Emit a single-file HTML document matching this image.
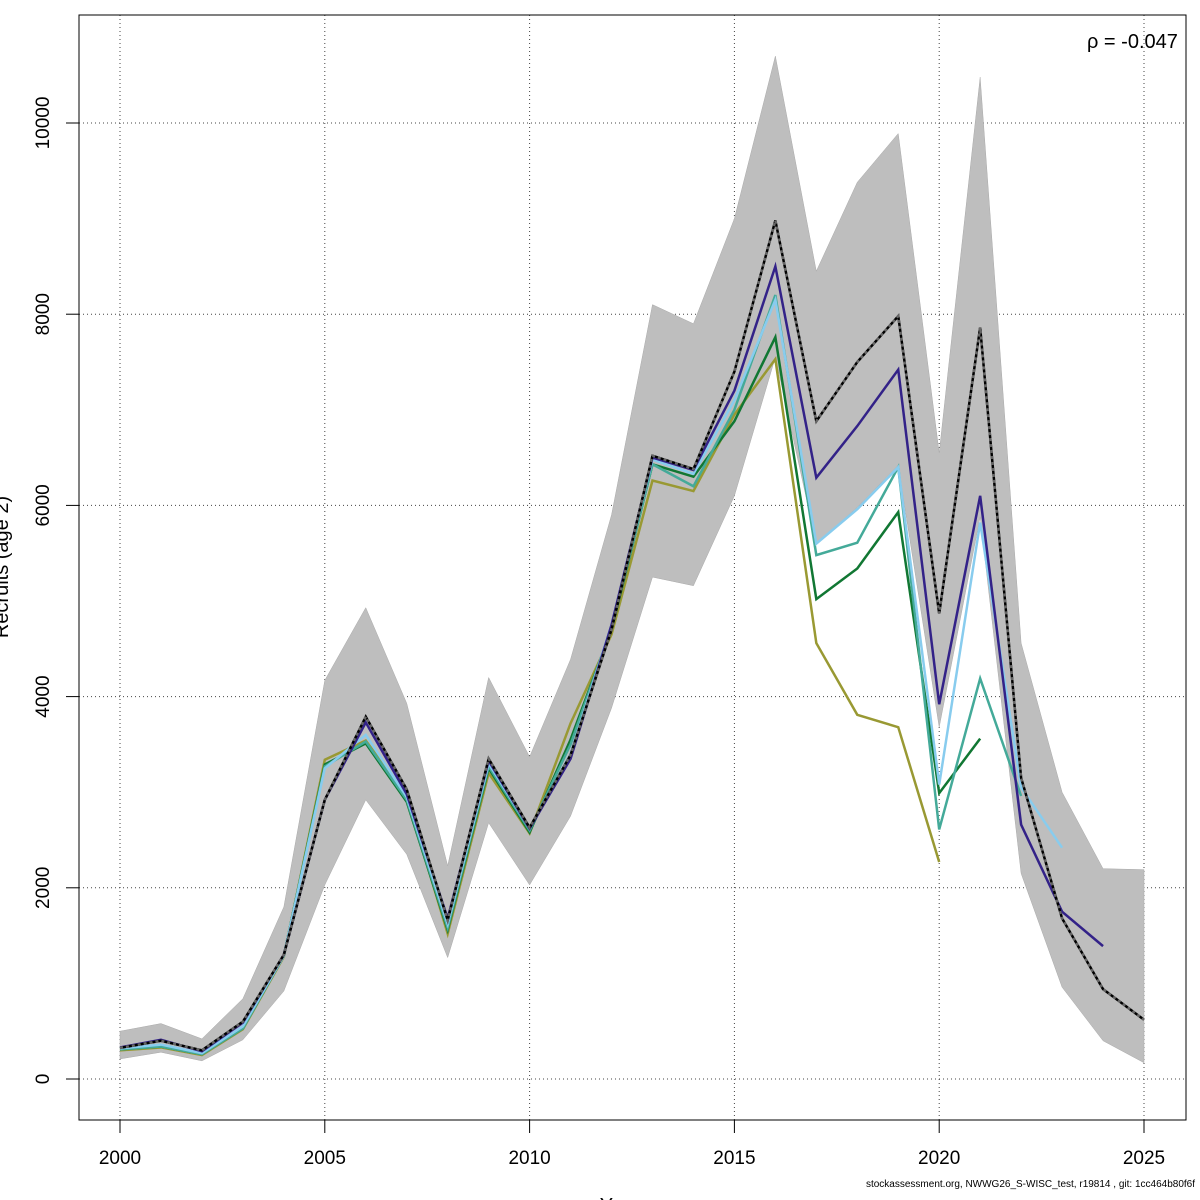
<!DOCTYPE html>
<html><head><meta charset="utf-8"><style>
html,body{margin:0;padding:0;background:#fff;}
svg{display:block;font-family:"Liberation Sans",sans-serif;}
</style></head><body>
<svg id="chart" width="1200" height="1200">
<rect width="1200" height="1200" fill="#fff"/>
<g id="grid"></g>
<g id="band"></g>
<g id="lines"></g>
<rect x="79" y="15" width="1107" height="1105" fill="none" stroke="#000" stroke-width="1"/>
<g id="axes"></g>
<text x="1087" y="48" font-size="20">ρ = -0.047</text>
<text transform="translate(8,567) rotate(-90)" text-anchor="middle" font-size="20">Recruits (age 2)</text>
<text x="620" y="1212" text-anchor="middle" font-size="20">Year</text>
<text x="1195" y="1187" text-anchor="end" font-size="10">stockassessment.org, NWWG26_S-WISC_test, r19814 , git: 1cc464b80f6f</text>
</svg>
<script>
const years = [2000,2001,2002,2003,2004,2005,2006,2007,2008,2009,2010,2011,2012,2013,2014,2015,2016,2017,2018,2019,2020,2021,2022,2023,2024,2025];
const bandHigh = [500,580,420,840,1800,4170,4930,3930,2230,4200,3370,4390,5900,8100,7900,9000,10700,8450,9380,9890,6550,10480,4560,3000,2200,2190];
const bandLow = [210,280,190,410,920,2030,2920,2350,1270,2680,2030,2750,3880,5250,5160,6100,7550,5600,5980,6420,3680,5880,2150,960,400,170];
const baseRun = [325,400,300,600,1300,2920,3790,3030,1660,3350,2630,3390,4700,6520,6380,7400,8980,6880,7500,7980,4870,7860,3150,1680,940,620];
const peel1 = [330,410,290,590,1300,2920,3730,2980,1680,3330,2620,3350,4750,6500,6370,7200,8500,6290,6830,7420,3920,6100,2660,1750,1390];
const peel2 = [320,360,270,550,1290,3250,3600,2950,1620,3300,2620,3400,4750,6480,6330,7100,8150,5600,5960,6400,3080,5820,3050,2420];
const peel3 = [310,340,260,530,1290,3270,3530,2920,1580,3270,2600,3500,4720,6430,6200,7000,8200,5480,5610,6400,2610,4190,2960];
const peel4 = [310,340,260,530,1290,3290,3510,2900,1560,3250,2580,3550,4700,6430,6300,6880,7760,5020,5340,5930,2990,3560];
const peel5 = [300,330,250,520,1280,3340,3540,2950,1520,3200,2570,3720,4650,6260,6150,6950,7530,4560,3810,3680,2270];
const xTicks = [2000,2005,2010,2015,2020,2025];
const yTicks = [0,2000,4000,6000,8000,10000];

const NS='http://www.w3.org/2000/svg';
const xs = y => 120 + (y-2000)*40.96;
const ys = v => 1079 - v*0.0956;
function mk(tag, attrs, parent){const e=document.createElementNS(NS,tag);for(const k in attrs)e.setAttribute(k,attrs[k]);parent.appendChild(e);return e;}
const grid=document.getElementById('grid'), band=document.getElementById('band'), lines=document.getElementById('lines'), axes=document.getElementById('axes');

xTicks.forEach(t=>{
  const l=mk('line',{x1:xs(t),x2:xs(t),y1:15,y2:1120,stroke:'#444','stroke-width':1,'stroke-dasharray':'1,3'},grid);
  
  
  const tk=mk('line',{x1:xs(t),x2:xs(t),y1:1120,y2:1133,stroke:'#000'},axes);
  
  
  const tx=mk('text',{x:xs(t),y:1164,'text-anchor':'middle','font-size':19},axes);
  tx.textContent=t;
  
  
});
yTicks.forEach(t=>{
  const l=mk('line',{x1:79,x2:1186,y1:ys(t),y2:ys(t),stroke:'#444','stroke-width':1,'stroke-dasharray':'1,3'},grid);
  
  
  const tk=mk('line',{x1:66,x2:79,y1:ys(t),y2:ys(t),stroke:'#000'},axes);
  
  
  const tx=mk('text',{transform:`translate(49,${ys(t)}) rotate(-90)`,'text-anchor':'middle','font-size':19},axes);
  tx.textContent=t;
  
  
});

let d='';
years.forEach((y,i)=>{d+=(i?'L':'M')+xs(y)+','+ys(bandHigh[i]);});
for(let i=years.length-1;i>=0;i--)d+='L'+xs(years[i])+','+ys(bandLow[i]);
const poly=mk('path',{d:d+'Z',fill:'#bebebe',stroke:'#aaa','stroke-width':0.5},band);



function series(vals,color,name,dash){
  const pts=vals.map((v,i)=>xs(years[i])+','+ys(v)).join(' ');
  const p=mk('polyline',{points:pts,fill:'none',stroke:color,'stroke-width':2.5,'stroke-linejoin':'miter'},lines);
  if(dash)p.setAttribute('stroke-dasharray',dash);
  
  
  return p;
}
series(peel5,'#999933','peel-2020-line');
series(peel4,'#117733','peel-2021-line');
series(peel3,'#44aa99','peel-2022-line');
series(peel2,'#88ccee','peel-2023-line');
series(peel1,'#332288','peel-2024-line');
series(baseRun,'#000','base-run-line');
series(baseRun,'#666','base-run-dash','3,3');
</script>
</body></html>
